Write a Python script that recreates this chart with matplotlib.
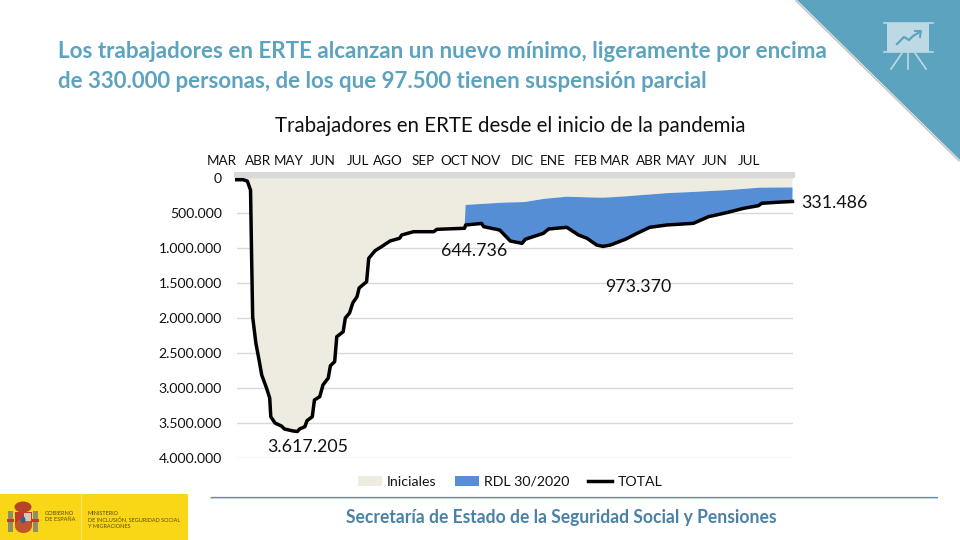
import matplotlib
matplotlib.use('Agg')
import matplotlib.pyplot as plt
from matplotlib.patches import Polygon, Rectangle, Ellipse
import numpy as np

dias = [0, 6, 10, 13, 14, 15, 18, 21, 23.5, 28, 31, 32, 36, 42, 45, 53, 57, 59, 64, 66, 71, 73, 78, 81, 86, 88, 92, 94,
        100, 102, 106, 109, 113, 115, 122, 124, 130, 136, 144, 153, 155, 166, 185, 188, 214, 215, 230, 232, 247, 257,
        268, 271, 288, 293, 310, 321, 329, 338, 344, 351, 365, 376, 388, 404, 429, 443, 460, 476, 490, 493, 507, 522]
total = [20, 20, 40, 170, 1120, 1980, 2354, 2596, 2810, 2996, 3139, 3406, 3496, 3539, 3582, 3610, 3617, 3582, 3549, 3463,
         3406, 3167, 3120, 2953, 2853, 2677, 2620, 2263, 2192, 1996, 1924, 1781, 1691, 1567, 1477, 1143, 1034, 977, 896,
         857, 810, 763, 763, 729, 714, 667, 645, 691, 739, 896, 929, 871, 786, 724, 700, 810, 857, 953, 973, 953, 871,
         786, 700, 667, 643, 549, 491, 429, 391, 357, 343, 331]
iniciales = [20, 20, 40, 170, 1120, 1980, 2354, 2596, 2810, 2996, 3139, 3406, 3496, 3539, 3582, 3610, 3617, 3582, 3549, 3463,
             3406, 3167, 3120, 2953, 2853, 2677, 2620, 2263, 2192, 1996, 1924, 1781, 1691, 1567, 1477, 1143, 1034, 977, 896,
             857, 810, 763, 763, 729, 714, 381, 366, 365, 350, 345, 340, 338, 295, 288, 263, 268, 272, 276, 277, 272, 258,
             245, 231, 212, 195, 183, 170, 152, 135, 134, 132, 131]
meses = ['MAR', 'ABR', 'MAY', 'JUN', 'JUL', 'AGO', 'SEP', 'OCT', 'NOV', 'DIC', 'ENE', 'FEB', 'MAR', 'ABR', 'MAY', 'JUN', 'JUL']
meses_pos = [-14, 20, 49, 81, 114, 142, 175, 204, 234, 268, 297, 328, 355, 387, 417, 449, 481]
y_ticks = [0, 500, 1000, 1500, 2000, 2500, 3000, 3500, 4000]
y_labels = ['0', '500.000', '1.000.000', '1.500.000', '2.000.000', '2.500.000', '3.000.000', '3.500.000', '4.000.000']
etiquetas = ['3.617.205', '644.736', '973.370', '331.486']
etiquetas_x = [67, 223, 377, 561]
etiquetas_y = [3840, 1040, 1555, 350]
serie_nombres = ['Iniciales', 'RDL 30/2020', 'TOTAL']

TEAL = '#5BA3BF'
plt.rcParams['font.family'] = ['Lato', 'DejaVu Sans']
W, H = 960, 540
fig = plt.figure(figsize=(9.6, 5.4), dpi=100, facecolor='white')

# Decoration layer in pixel coordinates
deco = fig.add_axes([0, 0, 1, 1], zorder=0)
deco.set_xlim(0, W); deco.set_ylim(H, 0); deco.axis('off')
deco.plot([796, 959], [0.8, 160.8], color='#C4C4C4', lw=1.1)
deco.add_patch(Polygon([(797, 0), (960, 0), (960, 160)], closed=True, color=TEAL, lw=0))
ICON = '#BDD9E4'
deco.add_patch(Rectangle((887, 23), 42, 29, color=ICON, lw=0))
deco.plot([884, 933], [23, 23], color=ICON, lw=1.2)
deco.plot([884, 933], [52, 52], color=ICON, lw=1.2)
deco.plot([902, 891], [53, 69], color=ICON, lw=1.2)
deco.plot([908, 908], [53, 69], color=ICON, lw=1.2)
deco.plot([915, 926], [53, 69], color=ICON, lw=1.2)
deco.plot([897, 904, 909, 913, 920], [44, 37, 40, 36, 32], color=TEAL, lw=1.6)
deco.plot([915, 921, 920], [31, 31, 37], color=TEAL, lw=1.4)

deco.text(58, 51, 'Los trabajadores en ERTE alcanzan un nuevo mínimo, ligeramente por encima',
          color=TEAL, fontsize=16.15, fontweight='bold', va='center', ha='left')
deco.text(58, 81, 'de 330.000 personas, de los que 97.500 tienen suspensión parcial',
          color=TEAL, fontsize=16.05, fontweight='bold', va='center', ha='left')
deco.text(510, 126.5, 'Trabajadores en ERTE desde el inicio de la pandemia', color='#111111',
          fontsize=14.8, va='center', ha='center')

# Footer
deco.plot([211, 937], [498, 498], color='#D5D5D5', lw=1.2)
deco.plot([211, 937], [496.5, 496.5], color='#558ED5', lw=0.9)
deco.text(561.5, 518, 'Secretaría de Estado de la Seguridad Social y Pensiones', color='#4A81A6',
          fontsize=12.65, fontweight='bold', va='center', ha='center')
YEL = '#F9D616'
deco.add_patch(Rectangle((0, 494), 188, 46, color=YEL, lw=0))
deco.plot([81, 81], [494, 540], color='#FBE25A', lw=1)
deco.text(45, 516.5, 'GOBIERNO\nDE ESPAÑA', fontsize=4.1, color='#5A4A10', va='center', ha='left', linespacing=1.1)
deco.text(88, 520, 'MINISTERIO\nDE INCLUSIÓN, SEGURIDAD SOCIAL\nY MIGRACIONES', fontsize=3.95, color='#5A4A10',
          va='center', ha='left', linespacing=1.2)
deco.add_patch(Ellipse((23, 507), 17, 11, color='#B5452A', lw=0))
deco.add_patch(Rectangle((15, 512), 17, 14, color='#C0392B', lw=0))
deco.add_patch(Ellipse((23.5, 526), 17, 14, color='#C0562B', lw=0))
deco.add_patch(Rectangle((24, 513), 7, 8, color='#D9C7B0', lw=0))
deco.add_patch(Ellipse((23, 520), 5, 7, color='#3A5A9B', lw=0))
for xp in (8, 33):
    deco.add_patch(Rectangle((xp, 511), 5, 21, color='#8E8E6A', lw=0))
    deco.add_patch(Rectangle((xp - 1, 519), 7, 3, color='#C0392B', lw=0))

# Chart
ax = fig.add_axes([236.7 / W, 1 - 458.3 / H, 555.8 / W, 280 / H], zorder=1)
ax.patch.set_alpha(0)
x = np.array(dias, float)
tot = np.array(total, float)
ini = np.array(iniciales, float)
rdl = tot - ini
ax.stackplot(x, ini, rdl, colors=['#EEECE1', '#558ED5'], labels=serie_nombres[:2], lw=0, zorder=2)
ax.plot(x, tot, color='black', lw=2.5, label=serie_nombres[2], zorder=3, solid_joinstyle='round', clip_on=False)
ax.set_xlim(0, 522)
ax.set_ylim(4000, 0)
ax.set_yticks(y_ticks, y_labels, fontsize=10.1, color='#111111')
ax.tick_params(axis='y', length=0, pad=10.5)
ax.grid(axis='y', color='#D9D9D9', lw=1, zorder=1)
ax.set_axisbelow(True)
for s in ('left', 'right', 'bottom'):
    ax.spines[s].set_visible(False)
ax.spines['top'].set_position(('outward', 2.2))
ax.spines['top'].set_color('#D9D9D9')
ax.spines['top'].set_linewidth(4.3)
ax.xaxis.tick_top()
ax.set_xticks(np.arange(0, 523, 14))
ax.tick_params(axis='x', direction='inout', length=4.3, width=0.9, color='white', labeltop=False)
for m, p in zip(meses, meses_pos):
    ax.text(p, 1.062, m, transform=ax.get_xaxis_transform(), ha='center', va='center',
            fontsize=9.7, color='#111111', clip_on=False)
for t, ex, ey in zip(etiquetas, etiquetas_x, etiquetas_y):
    ax.text(ex, ey, t, ha='center', va='center', fontsize=12.8, color='#111111', clip_on=False)

h, l = ax.get_legend_handles_labels()
leg = ax.legend(h, l, loc='center', bbox_to_anchor=(510 / W, 1 - 482 / H), bbox_transform=fig.transFigure, ncol=3,
                frameon=False, fontsize=10.2, handlelength=1.7, handletextpad=0.36, columnspacing=1.3, labelcolor='#111111')
fig.savefig('out.png', dpi=100)
